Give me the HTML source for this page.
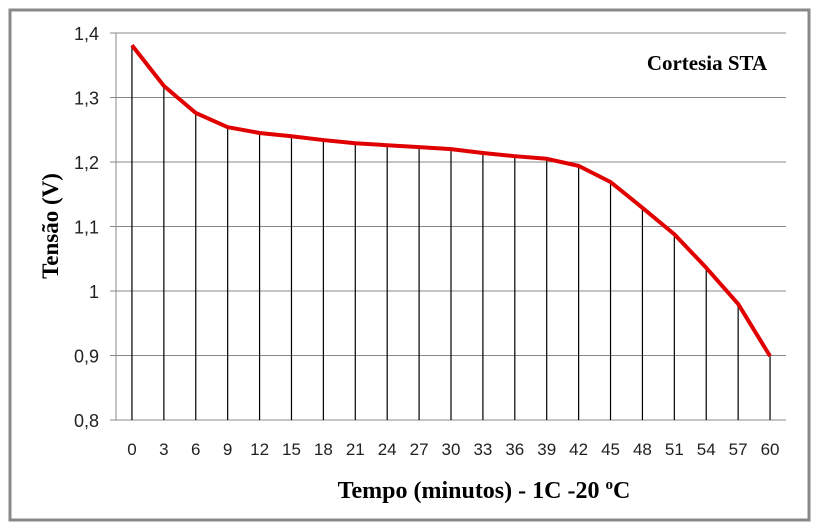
<!DOCTYPE html>
<html><head><meta charset="utf-8"><style>
body{margin:0;background:#fff;}
svg{display:block;font-family:"Liberation Sans",sans-serif;}
</style></head><body>
<svg id="chart" width="820" height="531">
<rect x="10" y="10" width="799" height="510" fill="#fff" stroke="#888" stroke-width="3"/>
<g id="grid"></g><g id="drops"></g><g id="ylab"></g><g id="xlab"></g>
<polyline id="line" fill="none" stroke="#e00000" stroke-width="4" stroke-linejoin="round"/>
<text x="707" y="70" text-anchor="middle" font-family="Liberation Serif,serif" font-weight="bold" font-size="21">Cortesia STA</text>
<text x="484" y="498" text-anchor="middle" font-family="Liberation Serif,serif" font-weight="bold" font-size="24">Tempo (minutos) - 1C -20 <tspan font-size="15" dy="-9">o</tspan><tspan dy="9">C</tspan></text>
<text transform="translate(58,226) rotate(-90)" text-anchor="middle" font-family="Liberation Serif,serif" font-weight="bold" font-size="23">Tensão (V)</text>
</svg>
<script>
const categories=[0,3,6,9,12,15,18,21,24,27,30,33,36,39,42,45,48,51,54,57,60];
const voltages=[1.381,1.318,1.276,1.254,1.245,1.240,1.234,1.229,1.226,1.223,1.220,1.214,1.209,1.205,1.194,1.169,1.129,1.088,1.036,0.980,0.899];
const yTicks=[0.8,0.9,1,1.1,1.2,1.3,1.4];
const yTickLabels=["0,8","0,9","1","1,1","1,2","1,3","1,4"];
const L=116,R=786,T=33,B=420,yMin=0.8,yMax=1.4;
const NS="http://www.w3.org/2000/svg";
const y=v=>B-(v-yMin)/(yMax-yMin)*(B-T);
const step=(R-L)/categories.length;
const x=i=>L+step*(i+0.5);
function mk(t,a,p){const e=document.createElementNS(NS,t);for(const k in a)e.setAttribute(k,a[k]);document.getElementById(p).appendChild(e);return e;}
yTicks.forEach((v,i)=>{
 const g=mk('line',{x1:L-6,x2:R,y1:y(v),y2:y(v),stroke:'#888','stroke-width':1},'grid');
 
 
 const t=mk('text',{x:L-17,y:y(v)+7,'text-anchor':'end','font-size':18,fill:'#222'},'ylab');
 t.textContent=yTickLabels[i];
 
 
});
mk('line',{x1:L,x2:L,y1:T,y2:B,stroke:'#888'},'grid');
const pts=[];
categories.forEach((c,i)=>{
 const d=mk('line',{x1:x(i),x2:x(i),y1:y(voltages[i]),y2:B,stroke:'#000','stroke-width':1.2},'drops');
 
 
 const t=mk('text',{x:x(i),y:B+35,'text-anchor':'middle','font-size':17,fill:'#222'},'xlab');
 t.textContent=c;
 
 
 pts.push(x(i)+','+y(voltages[i]));
});
document.getElementById('line').setAttribute('points',pts.join(' '));
</script>
</body></html>
